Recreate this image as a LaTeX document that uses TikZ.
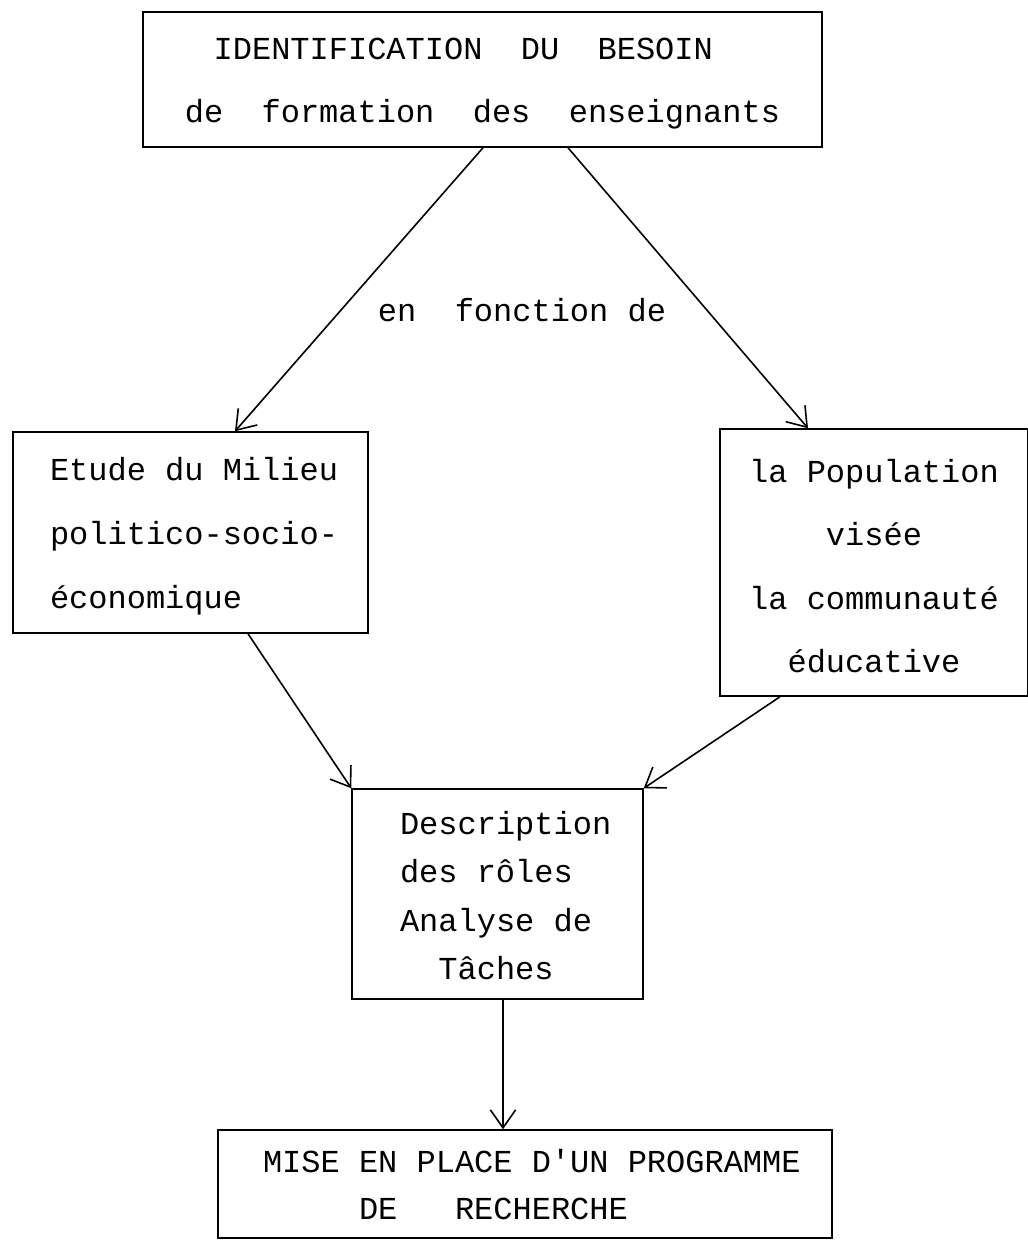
\documentclass[tikz,border=0pt]{standalone}
\usepackage{fontspec}
\setmonofont{Liberation Mono}
\usetikzlibrary{arrows.meta}
\newcommand\fx{\spaceskip=19.2pt\relax\xspaceskip=19.2pt\relax}
\newcommand\toph[1]{\rule{0pt}{#1pt}}
\newcommand\botd{\rule[-10pt]{0pt}{10pt}}
\begin{document}
\begin{tikzpicture}[x=1pt,y=-1pt,
  box/.style={draw, line width=1.5pt, inner sep=0pt},
  mono/.style={font=\ttfamily\fontsize{32}{#1}\selectfont},
  arr/.style={line width=1.6pt, -{Straight Barb[angle=70:22pt]}}]
\useasboundingbox (0,0) rectangle (1028,1243);
\node[box, mono=63, minimum width=679pt, minimum height=135pt, text width=620pt, align=center]
  (top) at (482.5,79.5)
  {\fx\toph{32}IDENTIFICATION\ \ DU\ \ BESOIN\hphantom{xx}\\de\ \ formation\ \ des\ \ enseignants\botd};
\node[box, mono=64, minimum width=355pt, minimum height=201pt, text width=301pt, align=left]
  (left) at (190.5,532.5)
  {\fx\hspace*{10pt}\toph{33}Etude du Milieu\\\hspace*{10pt}politico-socio-\\\hspace*{10pt}économique\botd};
\node[box, mono=63.5, minimum width=308pt, minimum height=267pt, text width=280pt, align=center]
  (right) at (874,562.5)
  {\fx\toph{39.5}la Population\\visée\\la communauté\\éducative\botd};
\node[box, mono=48.5, minimum width=291pt, minimum height=210pt, text width=230pt, align=left]
  (mid) at (497.5,894)
  {\fx\hspace*{17.5pt}\toph{35.5}Description\\\hspace*{17.5pt}des rôles\\\hspace*{17.5pt}Analyse de\\\hspace*{17.5pt}\hphantom{xx}Tâches\botd};
\node[box, mono=47, minimum width=614pt, minimum height=108pt, text width=556pt, align=left]
  (bot) at (525,1184)
  {\fx\hspace*{16pt}\toph{33}MISE EN PLACE D'UN PROGRAMME\\\hspace*{16pt}\hphantom{xxxxx}DE\ \ \ RECHERCHE\botd};
\node[mono=38] (lab) at (522,310) {\fx en\ \ fonction de};
\draw[arr] (top.south -| 483,0) -- (left.north -| 235,0);
\draw[arr] (top.south -| 568,0) -- (right.north -| 808,0);
\draw[arr] (left.south -| 248,0) -- (mid.north west);
\draw[arr] (right.south -| 780,0) -- (mid.north east);
\draw[arr] (mid.south -| 503,0) -- (bot.north -| 503,0);
\end{tikzpicture}
\end{document}
